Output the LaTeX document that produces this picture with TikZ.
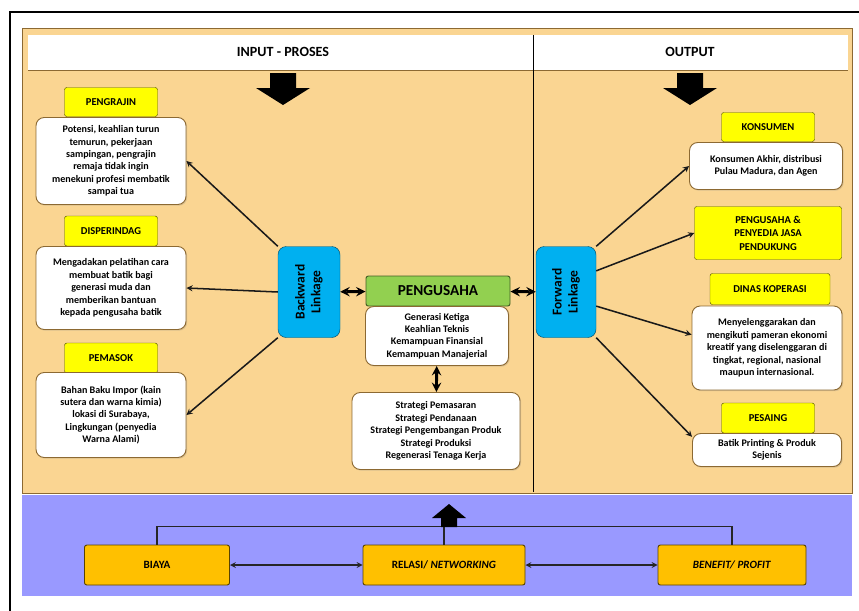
\documentclass[tikz,border=0pt]{standalone}
\usepackage{fontspec}
\setmainfont{Carlito}
\usetikzlibrary{positioning, calc, arrows, shadows}

\definecolor{krem}{RGB}{250,213,146}
\definecolor{coklat}{RGB}{140,105,50}
\definecolor{lavender}{RGB}{153,153,255}
\definecolor{kuning}{RGB}{255,255,0}
\definecolor{emas}{RGB}{255,192,0}
\definecolor{hijau}{RGB}{146,208,80}
\definecolor{biru}{RGB}{0,176,240}

\begin{document}
\begin{tikzpicture}[x=0.3mm, y=-0.3mm, >=stealth,
    ukuran/.style 2 args={minimum width=#1*0.3mm, minimum height=#2*0.3mm},
    judul/.style={draw=kuning!35!black, fill=kuning, rounded corners=2pt, inner sep=1pt,
      align=center, font=\fontsize{9}{11.5}\selectfont\bfseries},
    ket/.style={draw=coklat, thick, fill=white, rounded corners=7pt, inner sep=2pt,
      align=center, font=\fontsize{8.6}{10.6}\selectfont\bfseries,
      drop shadow={opacity=0.25, shadow xshift=1pt, shadow yshift=-1pt}},
    linkage/.style={draw=biru!45!black, fill=biru, rounded corners=7pt, align=center,
      font=\fontsize{11.5}{13.5}\selectfont\bfseries},
    dasar/.style={draw=emas!35!black, thick, fill=emas, rounded corners=2pt,
      font=\fontsize{9.5}{11}\selectfont\bfseries},
    panah/.style={->, line width=1.3pt, black!90}]

  \useasboundingbox (0,0) rectangle (859,610);
  \fill[white] (0,0) rectangle (859,610);

  % frame and panels
  \draw[line width=2.5pt] (10,611) -- (10,12) -- (861,12);
  \draw[coklat, thick, fill=krem] (22,28) rectangle (852,493);
  \fill[white] (28,35) rectangle (848,70);
  \draw[coklat, thick] (28,70) -- (848,70);
  \draw[thick] (533,35) -- (533,492);
  \fill[lavender] (22,495) rectangle (852,596);

  \node[font=\fontsize{12}{14}\selectfont\bfseries] (input) at (283,52) {INPUT - PROSES};
  \node[font=\fontsize{12}{14}\selectfont\bfseries] (output) at (690,52) {OUTPUT};
  \foreach \x in {283,690}
    \fill (\x-13,73) -- (\x+13,73) -- (\x+13,88) -- (\x+27,88) -- (\x,105)
      -- (\x-27,88) -- (\x-13,88) -- cycle;

  % input
  \node[judul, ukuran={93}{29}] (pengrajin) at (111,102) {PENGRAJIN};
  \node[ket, ukuran={150}{87}] (ketPengrajin) at (111,161)
    {Potensi, keahlian turun\\temurun, pekerjaan\\sampingan, pengrajin\\remaja tidak ingin\\menekuni profesi membatik\\sampai tua};
  \node[judul, ukuran={93}{30}] (disperindag) at (111,231) {DISPERINDAG};
  \node[ket, ukuran={150}{83}] (ketDisperindag) at (111,288)
    {Mengadakan pelatihan cara\\membuat batik bagi\\generasi muda dan\\memberikan bantuan\\kepada pengusaha batik};
  \node[judul, ukuran={93}{30}] (pemasok) at (111,358) {PEMASOK};
  \node[ket, ukuran={150}{85}] (ketPemasok) at (111,415)
    {Bahan Baku Impor (kain\\sutera dan warna kimia)\\lokasi di Surabaya,\\Lingkungan (penyedia\\Warna Alami)};

  \node[linkage, ukuran={62}{91}] (backward) at (309,292) {};
  \node[rotate=90, align=center, font=\fontsize{11.5}{13.5}\selectfont\bfseries] at (backward) {Backward\\Linkage};

  % proses
  \node[draw=hijau!45!black, thick, fill=hijau, rounded corners=2pt, ukuran={144}{30},
    font=\fontsize{13}{15}\selectfont\bfseries] (pengusaha) at (438,291) {PENGUSAHA};
  \node[ket, ukuran={143}{59}] (ketPengusaha) at (437,336)
    {Generasi Ketiga\\Keahlian Teknis\\Kemampuan Finansial\\Kemampuan Manajerial};
  \node[ket, ukuran={168}{77}] (strategi) at (436,431)
    {Strategi Pemasaran\\Strategi Pendanaan\\Strategi Pengembangan Produk\\Strategi Produksi\\Regenerasi Tenaga Kerja};

  % output
  \node[linkage, ukuran={60}{91}] (forward) at (566,292) {};
  \node[rotate=90, align=center, font=\fontsize{11.5}{13.5}\selectfont\bfseries] at (forward) {Forward\\Linkage};

  \node[judul, ukuran={93}{29}] (konsumen) at (768,127) {KONSUMEN};
  \node[ket, ukuran={153}{47}] (ketKonsumen) at (766,166)
    {Konsumen Akhir, distribusi\\Pulau Madura, dan Agen};
  \node[judul, ukuran={147}{53}] (penyedia) at (768,233) {PENGUSAHA \&\\PENYEDIA JASA\\PENDUKUNG};
  \node[judul, ukuran={120}{31}] (dinas) at (770,289) {DINAS KOPERASI};
  \node[ket, ukuran={150}{84}] (ketDinas) at (767,348)
    {Menyelenggarakan dan\\mengikuti pameran ekonomi\\kreatif yang diselenggaran di\\tingkat, regional, nasional\\maupun internasional.};
  \node[judul, ukuran={93}{30}] (pesaing) at (768,418) {PESAING};
  \node[ket, ukuran={149}{33}] (ketPesaing) at (767,450) {Batik Printing \& Produk\\Sejenis};

  % linkage arrows
  \draw[panah] (backward.north west) -- (ketPengrajin.east);
  \draw[panah] (backward.west) -- (ketDisperindag.east);
  \draw[panah] (backward.south west) -- (ketPemasok.east);
  \draw[<->, line width=2.5pt] (backward) -- (pengusaha);
  \draw[<->, line width=2.5pt] (pengusaha) -- (forward);
  \draw[<->, line width=2.5pt] (ketPengusaha) -- (strategi);
  \draw[panah] (forward.north east) -- (ketKonsumen.west);
  \draw[panah] (forward.35) -- (penyedia.west);
  \draw[panah] (forward.-25) -- (ketDinas.170);
  \draw[panah] (forward.south east) -- (ketPesaing.170);

  % pendukung
  \node[dasar, ukuran={145}{40}] (biaya) at (157,565) {BIAYA};
  \node[dasar, ukuran={162}{40}] (relasi) at (444,565) {RELASI/ \textit{NETWORKING}};
  \node[dasar, ukuran={148}{40}] (benefit) at (732,565) {\textit{BENEFIT/ PROFIT}};
  \draw[very thick, black!85] (biaya.north) -- ++(0,-18) -| (benefit.north);
  \draw[very thick, black!85] (relasi.north) -- ++(0,-18);
  \fill (441,527) -- (441,518) -- (432,518) -- (449,504) -- (466,518) -- (457,518) -- (457,527) -- cycle;
  \draw[<->, very thick, black!85] (biaya) -- (relasi);
  \draw[<->, very thick, black!85] (relasi) -- (benefit);
\end{tikzpicture}
\end{document}
